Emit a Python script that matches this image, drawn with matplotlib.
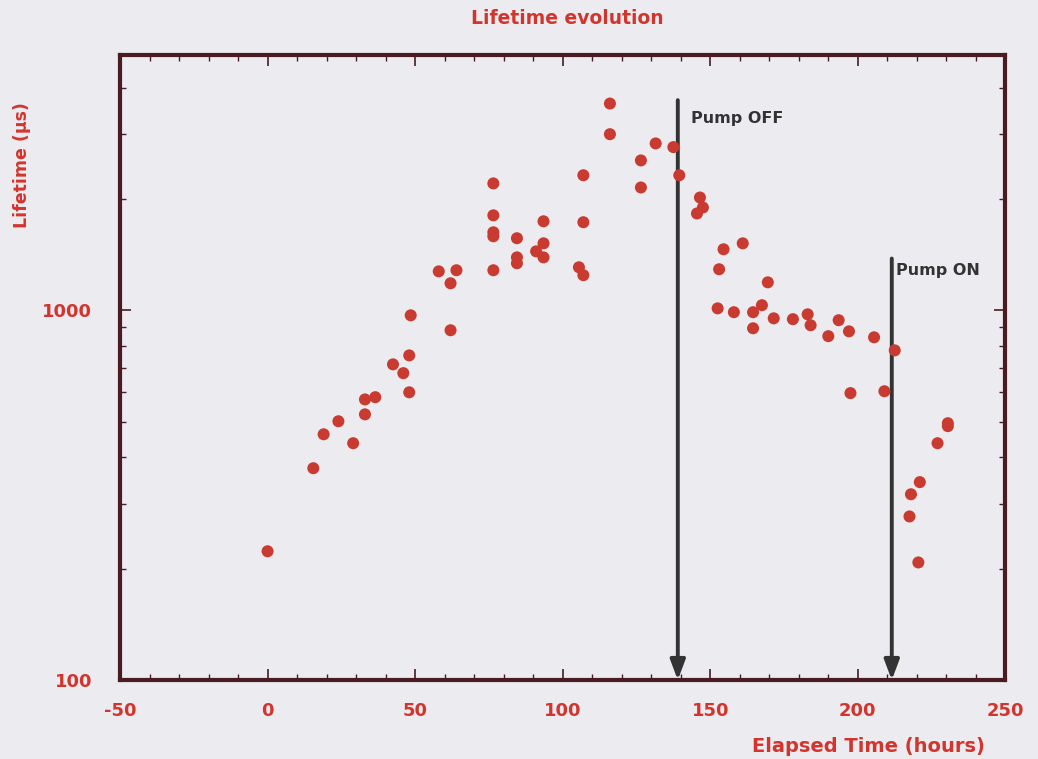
import matplotlib
matplotlib.use("Agg")
import matplotlib.pyplot as plt
from matplotlib.ticker import FixedLocator, MultipleLocator, NullFormatter, LogLocator

plt.rcParams['font.family'] = ['DejaVu Sans']
plt.rcParams['axes.unicode_minus'] = False

hours = [0, 15.5, 19, 24, 29, 33, 33, 36.5, 42.5, 46, 48, 48, 48.5,
         58, 62, 64, 62,
         76.5, 76.5, 76.5, 76.5, 76.5,
         84.5, 84.5, 84.5,
         93.5, 93.5, 91, 93.5,
         107, 107, 105.5, 107,
         116, 116, 126.5, 126.5, 131.5, 137.5, 139.5,
         146.5, 147.5, 145.5, 154.5, 161, 153, 169.5,
         152.5, 158, 164.5, 167.5, 164.5, 171.5, 178, 183, 184,
         190, 193.5, 197, 205.5, 212.5, 197.5, 209,
         230.5, 230.5, 227, 221, 218, 217.5, 220.5]
lifetime = [223, 374, 462, 501, 437, 523, 574, 582, 714, 676, 755, 600, 969,
            1274, 1183, 1283, 883,
            2203, 1806, 1625, 1585, 1283,
            1566, 1390, 1340,
            1740, 1517, 1443, 1390,
            2318, 1730, 1307, 1244,
            3622, 2993, 2542, 2148, 2826, 2762, 2318,
            2018, 1896, 1827, 1462, 1517, 1291, 1190,
            1012, 988, 988, 1032, 894, 951, 946, 975, 911,
            851, 940, 877, 845, 779, 597, 604,
            495, 486, 437, 343, 318, 277, 208]

events = ["Pump OFF", "Pump ON"]
event_x = [139, 211.5]
event_top = [3700, 1380]
label_pos = [(143.5, 3300), (213, 1280)]

red = '#d2352d'
frame = '#4a1c20'
dark = '#333333'
bg = '#ecebf0'

fig = plt.figure(figsize=(10.38, 7.59), dpi=100, facecolor=bg)
ax = fig.add_axes([0.1156, 0.104, 0.853, 0.8235])
ax.set_facecolor(bg)

ax.scatter(hours, lifetime, s=75, color='#c93a30', edgecolors='none', zorder=3)

for name, ex, top, (lx, ly) in zip(events, event_x, event_top, label_pos):
    ax.annotate('', xy=(ex, 100), xytext=(ex, top),
                arrowprops=dict(arrowstyle='-|>,head_length=1.2,head_width=0.45',
                                color=dark, lw=2.8, shrinkA=0, shrinkB=0),
                zorder=2)
    ax.text(lx, ly, name, color=dark, fontsize=11.5, fontweight='bold',
            ha='left', va='center', zorder=4)

ax.set_yscale('log')
ax.set_xlim(-50, 250)
ax.set_ylim(100, 4900)

ax.xaxis.set_major_locator(MultipleLocator(50))
ax.xaxis.set_minor_locator(MultipleLocator(10))
ax.yaxis.set_major_locator(FixedLocator([100, 1000]))
ax.yaxis.set_minor_locator(LogLocator(base=10, subs=range(2, 10)))
ax.yaxis.set_minor_formatter(NullFormatter())
ax.set_yticklabels(['100', '1000'])

ax.tick_params(axis='both', which='both', direction='in', top=True, right=True,
               color=frame, labelcolor=red, labelsize=13)
ax.tick_params(axis='both', which='major', length=8, width=1.2)
ax.tick_params(axis='both', which='minor', length=4, width=1.0)
ax.tick_params(axis='x', pad=16)
ax.tick_params(axis='y', pad=20)
for lab in ax.get_xticklabels() + ax.get_yticklabels():
    lab.set_fontweight('bold')

for sp in ax.spines.values():
    sp.set_color(frame)
    sp.set_linewidth(3)

fig.text(0.547, 0.976, 'Lifetime evolution', color=red, fontsize=13.5,
         fontweight='bold', ha='center', va='center')
fig.text(0.949, 0.017, 'Elapsed Time (hours)', color=red, fontsize=14,
         fontweight='bold', ha='right', va='center')
fig.text(0.021, 0.70, 'Lifetime (µs)', color=red, fontsize=12.5,
         fontweight='bold', rotation=90, ha='center', va='bottom')

fig.savefig('out.png', dpi=100, facecolor=bg)
